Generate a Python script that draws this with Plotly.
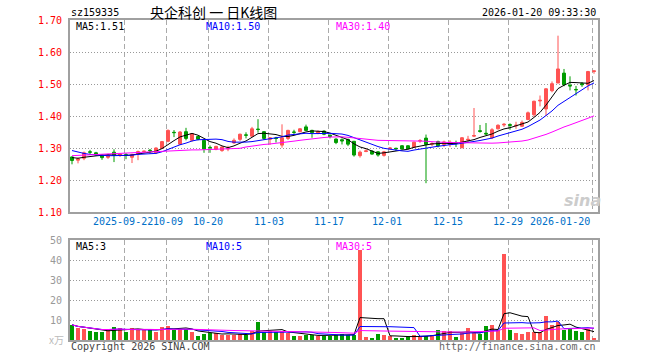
import plotly.graph_objects as go
import pandas as pd

# ---------------- data ----------------
opens = [1.272, 1.262, 1.268, 1.288, 1.285, 1.278, 1.271, 1.287, 1.277, 1.279,
         1.271, 1.281, 1.289, 1.293, 1.285, 1.299, 1.321, 1.349, 1.312, 1.351,
         1.324, 1.336, 1.324, 1.302, 1.296, 1.292, 1.297, 1.316, 1.327, 1.341,
         1.337, 1.359, 1.351, 1.327, 1.331, 1.309, 1.330, 1.350, 1.351, 1.366,
         1.355, 1.347, 1.353, 1.340, 1.328, 1.326, 1.327, 1.321, 1.276, 1.289,
         1.290, 1.288, 1.277, 1.298, 1.299, 1.307, 1.307, 1.302, 1.322, 1.331,
         1.312, 1.320, 1.311, 1.312, 1.316, 1.301, 1.325, 1.337, 1.354, 1.346,
         1.332, 1.360, 1.372, 1.373, 1.369, 1.368, 1.389, 1.404, 1.447, 1.422,
         1.479, 1.503, 1.534, 1.496, 1.483, 1.501, 1.498, 1.539]
highs = [1.274, 1.270, 1.289, 1.294, 1.288, 1.280, 1.282, 1.296, 1.284, 1.284,
         1.282, 1.292, 1.292, 1.297, 1.302, 1.322, 1.358, 1.356, 1.353, 1.363,
         1.347, 1.338, 1.326, 1.308, 1.307, 1.305, 1.307, 1.330, 1.345, 1.349,
         1.366, 1.390, 1.353, 1.334, 1.335, 1.374, 1.357, 1.357, 1.362, 1.373,
         1.357, 1.355, 1.355, 1.342, 1.330, 1.330, 1.329, 1.322, 1.292, 1.296,
         1.293, 1.290, 1.291, 1.302, 1.301, 1.309, 1.309, 1.320, 1.328, 1.342,
         1.318, 1.323, 1.323, 1.324, 1.323, 1.334, 1.338, 1.425, 1.372, 1.378,
         1.362, 1.374, 1.378, 1.377, 1.382, 1.386, 1.414, 1.448, 1.464, 1.487,
         1.508, 1.651, 1.547, 1.524, 1.494, 1.506, 1.541, 1.541]
lows = [1.249, 1.252, 1.262, 1.279, 1.276, 1.263, 1.266, 1.256, 1.272, 1.265,
        1.253, 1.262, 1.285, 1.283, 1.281, 1.297, 1.318, 1.334, 1.310, 1.324,
        1.320, 1.324, 1.285, 1.285, 1.293, 1.288, 1.290, 1.313, 1.322, 1.330,
        1.335, 1.348, 1.325, 1.310, 1.317, 1.301, 1.325, 1.343, 1.349, 1.353,
        1.332, 1.343, 1.340, 1.330, 1.312, 1.311, 1.306, 1.273, 1.270, 1.287,
        1.279, 1.273, 1.273, 1.296, 1.291, 1.296, 1.296, 1.300, 1.316, 1.190,
        1.306, 1.302, 1.303, 1.303, 1.303, 1.299, 1.318, 1.334, 1.348, 1.340,
        1.328, 1.358, 1.366, 1.357, 1.360, 1.366, 1.387, 1.397, 1.430, 1.400,
        1.474, 1.503, 1.493, 1.480, 1.464, 1.491, 1.480, 1.532]
closes = [1.261, 1.266, 1.285, 1.287, 1.278, 1.270, 1.276, 1.277, 1.281, 1.278,
          1.279, 1.289, 1.290, 1.292, 1.300, 1.320, 1.355, 1.348, 1.350, 1.330,
          1.345, 1.327, 1.297, 1.301, 1.305, 1.303, 1.300, 1.324, 1.343, 1.340,
          1.360, 1.358, 1.330, 1.332, 1.330, 1.332, 1.355, 1.349, 1.360, 1.355,
          1.348, 1.351, 1.343, 1.336, 1.317, 1.322, 1.312, 1.278, 1.287, 1.291,
          1.281, 1.278, 1.288, 1.300, 1.298, 1.297, 1.298, 1.318, 1.323, 1.311,
          1.314, 1.307, 1.319, 1.318, 1.315, 1.332, 1.327, 1.339, 1.352, 1.344,
          1.357, 1.371, 1.374, 1.371, 1.371, 1.380, 1.410, 1.446, 1.449, 1.485,
          1.501, 1.547, 1.498, 1.494, 1.482, 1.498, 1.539, 1.541]
volumes = [7.6, 6.0, 5.6, 4.65, 3.8, 3.8, 5.15, 6.65, 6.0, 3.8,
           6.15, 5.15, 5.15, 4.8, 4.15, 6.65, 7.15, 5.15, 5.5, 5.65,
           4.15, 2.15, 3.15, 3.5, 3.5, 2.65, 2.65, 2.65, 3.15, 2.65,
           4.5, 9.15, 3.8, 4.65, 3.8, 4.65, 3.3, 2.15, 2.15, 2.5,
           2.5, 2.15, 2.15, 2.15, 2.65, 3.15, 2.65, 2.65, 45.0, 1.5,
           1.0, 3.15, 2.65, 2.15, 1.15, 1.15, 1.5, 2.65, 1.8, 2.15,
           2.65, 5.15, 4.5, 4.65, 1.5, 3.5, 6.15, 3.5, 2.8, 7.15,
           7.65, 5.15, 43.0, 5.15, 3.5, 2.8, 4.0, 3.8, 4.0, 11.8,
           7.5, 9.15, 5.15, 6.0, 4.5, 4.15, 5.5, 0.8]

# moving-average values at the start of the window
ma5_head = [1.270, 1.268, 1.271, 1.274]
ma10_head = [1.292, 1.287, 1.283, 1.280, 1.278, 1.277, 1.276, 1.276, 1.276]
ma30_head = [1.276, 1.277, 1.278, 1.279, 1.280, 1.281, 1.282, 1.283, 1.284, 1.284,
             1.285, 1.286, 1.287, 1.288, 1.288, 1.289, 1.290, 1.291, 1.292, 1.293,
             1.294, 1.294, 1.295, 1.295, 1.296, 1.296, 1.297, 1.298, 1.299]

tick_idx = [9, 16, 23, 33, 43, 53, 63, 73, 87]
tick_labels = ["2025-09-22", "10-09", "10-20", "11-03", "11-17",
               "12-01", "12-15", "12-29", "2026-01-20"]
price_ticks = [1.10, 1.20, 1.30, 1.40, 1.50, 1.60, 1.70]
vol_ticks = [10, 20, 30, 40, 50]

code = "sz159335"
title = "央企科创 一 日K线图"
stamp = "2026-01-20 09:33:30"
price_legend = ["MA5:1.51", "MA10:1.50", "MA30:1.40"]
vol_legend = ["MA5:3", "MA10:5", "MA30:5"]

# ---------------- styling ----------------
W, H = 660, 360
ML, MR, MT, MB = 70, 62, 20, 20
RED = "#ff5353"
GREEN = "#009c00"
MA_COLORS = ["#000000", "#0000ff", "#ff00ff"]
MONO = "DejaVu Sans Mono"
BORDER = "#a0a0a0"
# horizontal nudges of the date labels (in slot units) and their anchors
label_shift = [-0.5, 0.0, -0.33, -0.17, -0.17, -0.5, -0.33, -0.33, -0.35]
label_anchor = ["center"] * 8 + ["right"]


def px(x, y):
    return (x - ML) / (W - ML - MR), 1 - (y - MT) / (H - MT - MB)


idx = list(range(len(closes)))


def price_ma(n, head):
    s = pd.Series(closes).rolling(n).mean()
    s.iloc[:len(head)] = head
    return s.tolist()


def vol_ma(n):
    return pd.Series(volumes).rolling(n, min_periods=1).mean().tolist()


fig = go.Figure()

fig.add_trace(go.Candlestick(
    x=idx, open=opens, high=highs, low=lows, close=closes,
    increasing=dict(line=dict(color=RED, width=1), fillcolor=RED),
    decreasing=dict(line=dict(color=GREEN, width=1), fillcolor=GREEN),
    whiskerwidth=0, xaxis="x", yaxis="y", showlegend=False, hoverinfo="skip"))

for n, head, col in zip([5, 10, 30], [ma5_head, ma10_head, ma30_head], MA_COLORS):
    fig.add_trace(go.Scatter(x=idx, y=price_ma(n, head), mode="lines",
                             line=dict(color=col, width=1), xaxis="x", yaxis="y",
                             showlegend=False, hoverinfo="skip"))

vol_colors = [RED if c >= o else GREEN for o, c in zip(opens, closes)]
fig.add_trace(go.Bar(x=idx, y=volumes, width=0.8,
                     marker=dict(color=vol_colors, line=dict(width=0)),
                     xaxis="x2", yaxis="y2", showlegend=False, hoverinfo="skip"))

for n, col in zip([5, 10, 30], MA_COLORS):
    fig.add_trace(go.Scatter(x=idx, y=vol_ma(n), mode="lines",
                             line=dict(color=col, width=1), xaxis="x2", yaxis="y2",
                             showlegend=False, hoverinfo="skip"))

grid_x = [t - 0.25 for t in tick_idx]
xcommon = dict(range=[-1 / 3, len(closes) - 1 / 3], tickvals=grid_x,
               showticklabels=False, ticks="", showgrid=True, gridcolor="#aaaaaa",
               griddash="5px,3px", gridwidth=1, zeroline=False,
               showline=True, linecolor=BORDER, linewidth=2, mirror=True)
ycommon = dict(ticks="", showgrid=True, gridcolor="#999999", griddash="1px,2px",
               gridwidth=1, zeroline=False, showline=True, linecolor=BORDER,
               linewidth=2, mirror=True, ticklabelstandoff=4)

fig.update_layout(
    width=W, height=H, margin=dict(l=ML, r=MR, t=MT, b=MB),
    paper_bgcolor="white", plot_bgcolor="white",
    xaxis=dict(domain=[0, 1], anchor="y", rangeslider=dict(visible=False), **xcommon),
    xaxis2=dict(domain=[0, 1], anchor="y2", matches="x", **xcommon),
    yaxis=dict(domain=[0.4, 1], range=[1.10, 1.70], tickvals=price_ticks,
               ticktext=["%.2f" % v for v in price_ticks],
               tickfont=dict(family=MONO, size=10, color="#ff0000"), **ycommon),
    yaxis2=dict(domain=[0, 0.3125], range=[0, 50], tickvals=vol_ticks,
                ticktext=[str(v) for v in vol_ticks],
                tickfont=dict(family=MONO, size=10, color="#999999"), **ycommon),
    bargap=0, showlegend=False,
)

ann = []


def text(x, y, s, color="#000000", anchor="left", size=10, family=MONO, **kw):
    xp, yp = px(x, y)
    ann.append(dict(x=xp, y=yp, xref="paper", yref="paper", text=s, showarrow=False,
                    xanchor=anchor, yanchor="middle",
                    font=dict(family=family, size=size, color=color), **kw))


text(69, 13, code)
text(213, 12, title, anchor="center", size=14, family="Noto Sans CJK SC")
text(598, 13, stamp, anchor="right")
for s, x, col in zip(price_legend, [74, 204, 334], MA_COLORS):
    text(x, 26.5, s, color=col)
for s, x, col in zip(vol_legend, [74, 204, 334], MA_COLORS):
    text(x, 246.5, s, color=col)
text(66, 339, "x万", color="#bbbbbb", anchor="right", size=10, family="Noto Sans CJK SC")
text(69, 346, "Copyright 2026 SINA.COM", color="#444444")
text(598, 346, "http://finance.sina.com.cn", color="#666666", anchor="right")
text(582, 200, "<b><i>sina</i></b>", color="#cccccc", anchor="center", size=16,
     family="DejaVu Sans")

# date labels on the x axis
_, ylab = px(0, 221)
for t, lab, sh, a in zip(tick_idx, tick_labels, label_shift, label_anchor):
    ann.append(dict(x=t + sh, y=ylab, xref="x", yref="paper", text=lab, showarrow=False,
                    xanchor=a, yanchor="middle",
                    font=dict(family=MONO, size=10, color="#0070c8")))

fig.update_layout(annotations=ann)
fig.write_html("out.html")
